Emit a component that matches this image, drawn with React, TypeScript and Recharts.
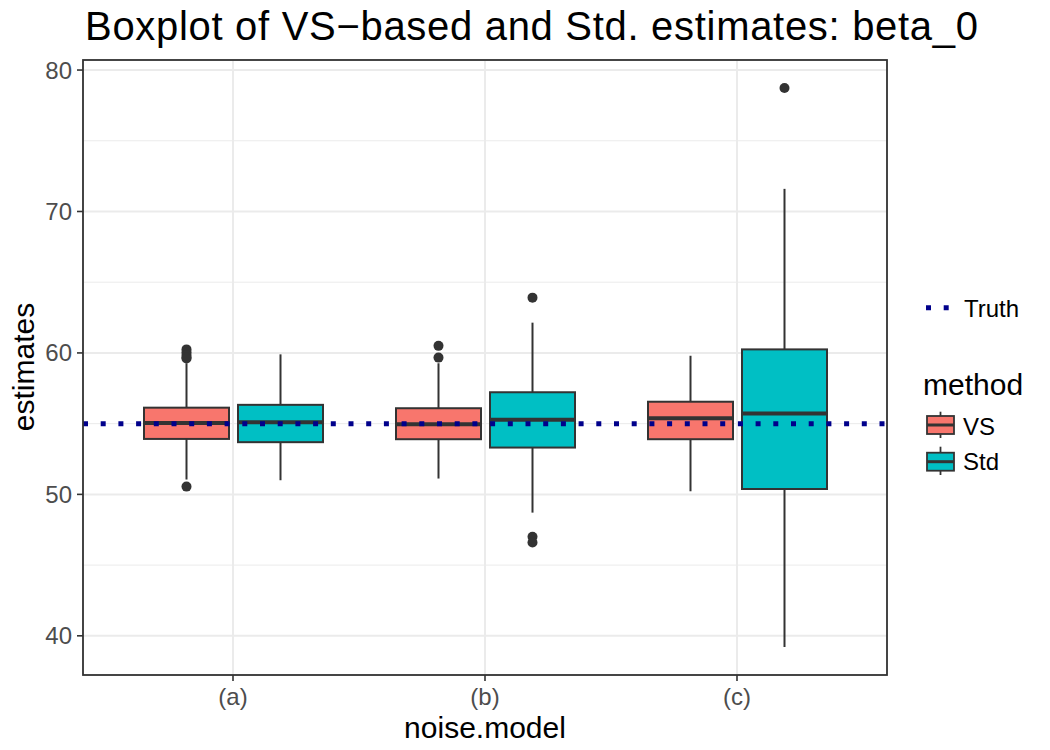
import { ComposedChart, Bar, XAxis, YAxis, CartesianGrid, ReferenceLine } from 'recharts';

const categories = ['(a)', '(b)', '(c)'];

// VS-based estimates, one entry per noise model
const vsMin = [51.05, 51.12, 50.22];
const vsQ1 = [53.92, 53.9, 53.9];
const vsMedian = [55.05, 54.96, 55.39];
const vsQ3 = [56.13, 56.09, 56.55];
const vsMax = [59.27, 59.27, 59.8];
const vsOutliers = [[60.25, 60.05, 59.85, 59.7, 59.6, 50.55], [60.5, 59.67], []];

// Std. estimates
const stdMin = [51.0, 48.71, 39.21];
const stdQ1 = [53.69, 53.31, 50.38];
const stdMedian = [55.1, 55.27, 55.71];
const stdQ3 = [56.33, 57.22, 60.25];
const stdMax = [59.9, 62.14, 71.6];
const stdOutliers = [[], [63.91, 47.0, 46.6], [78.73]];

const truth = 55;
const yTicks = [40, 50, 60, 70, 80];
const yMinor = [45, 55, 65, 75];

const COLORS = { vs: '#F8766D', std: '#00BFC4' };
const INK = '#333333';

const buildStats = (mn, q1, md, q3, mx, out) =>
  categories.map((_, i) => {
    const all = [mn[i], mx[i], ...out[i]];
    return { min: mn[i], q1: q1[i], median: md[i], q3: q3[i], max: mx[i], outliers: out[i], lo: Math.min(...all), hi: Math.max(...all) };
  });

const vsStats = buildStats(vsMin, vsQ1, vsMedian, vsQ3, vsMax, vsOutliers);
const stdStats = buildStats(stdMin, stdQ1, stdMedian, stdQ3, stdMax, stdOutliers);

const data = categories.map((c, i) => ({
  noise: c,
  vs: [vsStats[i].lo, vsStats[i].hi],
  std: [stdStats[i].lo, stdStats[i].hi],
}));

function BoxShape(props) {
  const { x, y, width, height, fill, s } = props;
  if (!s || x == null) return null;
  const top = Math.min(y, y + height);
  const bot = Math.max(y, y + height);
  const py = (v) => (s.hi === s.lo ? top : top + ((s.hi - v) / (s.hi - s.lo)) * (bot - top));
  const cx = x + width / 2;
  return (
    <g>
      <line x1={cx} x2={cx} y1={py(s.max)} y2={py(s.q3)} stroke={INK} strokeWidth={2} />
      <line x1={cx} x2={cx} y1={py(s.q1)} y2={py(s.min)} stroke={INK} strokeWidth={2} />
      <rect x={x} y={py(s.q3)} width={width} height={py(s.q1) - py(s.q3)} fill={fill} stroke={INK} strokeWidth={2} />
      <line x1={x} x2={x + width} y1={py(s.median)} y2={py(s.median)} stroke={INK} strokeWidth={4} />
      {s.outliers.map((v, k) => (
        <circle key={k} cx={cx} cy={py(v)} r={5} fill={INK} />
      ))}
    </g>
  );
}

const shapeFor = (stats) => (p) => {
  const idx = p.index != null ? p.index : categories.indexOf(p.payload && p.payload.noise);
  return <BoxShape {...p} s={stats[idx]} />;
};

export default function App() {
  const font = '"Liberation Sans", Arial, Helvetica, sans-serif';
  return (
    <div style={{ position: 'absolute', left: 0, top: 0, width: 1050, height: 750, background: '#fff', fontFamily: font }}>
      <ComposedChart
        width={1050}
        height={750}
        data={data}
        margin={{ top: 60, right: 163, bottom: 0, left: 0 }}
        barGap={9}
      >
        <CartesianGrid stroke="#EBEBEB" strokeWidth={1} horizontalValues={yMinor} vertical={false} />
        <CartesianGrid stroke="#EBEBEB" strokeWidth={2} />
        <XAxis
          dataKey="noise"
          height={75}
          padding={{ left: 24, right: 24 }}
          tickLine={{ stroke: INK, strokeWidth: 1.6 }}
          axisLine={false}
          tickSize={6}
          tickMargin={7}
          tick={{ fill: '#4D4D4D', fontSize: 24, fontFamily: font }}
        />
        <YAxis
          type="number"
          domain={[37.23, 80.71]}
          ticks={yTicks}
          width={83}
          tickLine={{ stroke: INK, strokeWidth: 1.6 }}
          axisLine={false}
          tickSize={6}
          tickMargin={5}
          tick={{ fill: '#4D4D4D', fontSize: 24, fontFamily: font }}
          allowDataOverflow
        />
        <Bar dataKey="vs" fill={COLORS.vs} barSize={85} isAnimationActive={false} shape={shapeFor(vsStats)} />
        <Bar dataKey="std" fill={COLORS.std} barSize={85} isAnimationActive={false} shape={shapeFor(stdStats)} />
        <ReferenceLine y={truth} stroke="#00008B" strokeWidth={5} strokeDasharray="5 12.7" />
      </ComposedChart>

      <svg width={1050} height={750} style={{ position: 'absolute', left: 0, top: 0, pointerEvents: 'none' }} fontFamily={font}>
        <rect x={83} y={60} width={804} height={615} fill="none" stroke={INK} strokeWidth={1.8} />
        <text x={85} y={40} fontSize={40} fill="#000" textLength={893} lengthAdjust="spacing">
          Boxplot of VS−based and Std. estimates: beta_0
        </text>
        <text x={485} y={738} fontSize={30} fill="#000" textAnchor="middle">noise.model</text>
        <text x={34} y={367} fontSize={30} fill="#000" textAnchor="middle" transform="rotate(-90 34 367)">estimates</text>

        <g transform="translate(915 290)">
          <line x1={11} x2={35} y1={17.7} y2={17.7} stroke="#00008B" strokeWidth={5} strokeDasharray="5 12.7" />
          <text x={49} y={26.7} fontSize={24} fill="#000">Truth</text>
          <text x={8} y={105} fontSize={30} fill="#000">method</text>

          <line x1={25.5} x2={25.5} y1={121.7} y2={148} stroke={INK} strokeWidth={1.8} />
          <rect x={12} y={126} width={27} height={18} fill={COLORS.vs} stroke={INK} strokeWidth={1.8} />
          <line x1={12} x2={39} y1={135} y2={135} stroke={INK} strokeWidth={3} />
          <text x={48} y={145} fontSize={24} fill="#000">VS</text>

          <line x1={25.5} x2={25.5} y1={156.7} y2={185} stroke={INK} strokeWidth={1.8} />
          <rect x={12} y={162.7} width={27} height={18} fill={COLORS.std} stroke={INK} strokeWidth={1.8} />
          <line x1={12} x2={39} y1={171.7} y2={171.7} stroke={INK} strokeWidth={3} />
          <text x={48} y={180} fontSize={24} fill="#000">Std</text>
        </g>
      </svg>
    </div>
  );
}
